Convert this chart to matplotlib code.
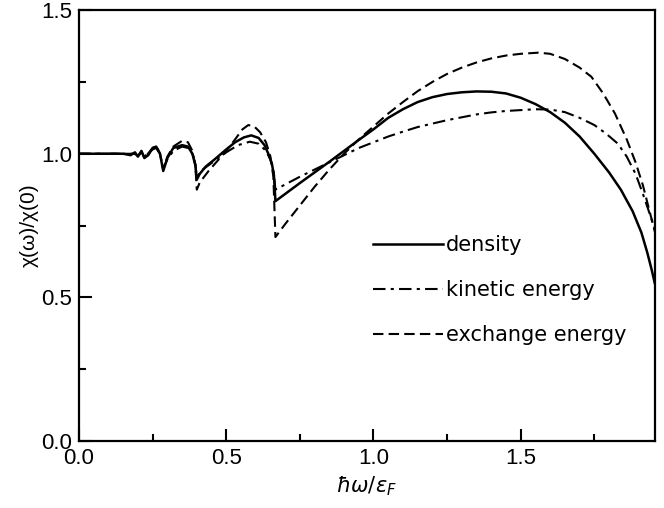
import numpy as np
import matplotlib.pyplot as plt
from matplotlib.ticker import MultipleLocator

plt.rcParams['font.family'] = ['Liberation Sans', 'DejaVu Sans']
plt.rcParams['mathtext.fontset'] = 'dejavusans'

# density response (solid)
x_density = [0.0, 0.15, 0.175, 0.19, 0.20, 0.212, 0.222, 0.235, 0.25, 0.262, 0.275,
             0.286, 0.30, 0.32, 0.35, 0.37, 0.385, 0.395, 0.40, 0.41, 0.43, 0.46,
             0.50, 0.53, 0.56, 0.585, 0.61, 0.63, 0.645, 0.655, 0.662, 0.667,
             0.70, 0.75, 0.80, 0.85, 0.90, 0.95, 1.00, 1.05, 1.10, 1.15, 1.20, 1.25,
             1.30, 1.35, 1.40, 1.45, 1.50, 1.55, 1.60, 1.65, 1.70, 1.75, 1.80,
             1.84, 1.88, 1.91, 1.93, 1.945, 1.955]
y_density = [1.0, 1.0, 0.995, 1.005, 0.99, 1.01, 0.985, 0.995, 1.02, 1.025, 1.0,
             0.94, 0.985, 1.02, 1.03, 1.025, 1.0, 0.96, 0.91, 0.93, 0.955, 0.98,
             1.015, 1.04, 1.057, 1.064, 1.055, 1.03, 0.995, 0.965, 0.925, 0.835,
             0.86, 0.898, 0.935, 0.972, 1.01, 1.048, 1.085, 1.125, 1.155, 1.18, 1.197, 1.208,
             1.214, 1.217, 1.216, 1.21, 1.195, 1.173, 1.145, 1.108, 1.06, 1.0, 0.935,
             0.875, 0.80, 0.725, 0.655, 0.595, 0.55]

# kinetic energy response (dash-dot)
x_kinetic = [0.0, 0.15, 0.19, 0.20, 0.212, 0.222, 0.25, 0.262, 0.275, 0.286, 0.30,
             0.32, 0.35, 0.37, 0.385, 0.395, 0.40, 0.42, 0.46, 0.50, 0.54, 0.58,
             0.61, 0.635, 0.65, 0.66, 0.667, 0.70, 0.75, 0.80, 0.85, 0.90, 0.95,
             1.00, 1.05, 1.10, 1.15, 1.20, 1.25, 1.30, 1.35, 1.40, 1.45, 1.50, 1.55,
             1.60, 1.65, 1.70, 1.75, 1.79, 1.83, 1.86, 1.89, 1.915, 1.935, 1.955]
y_kinetic = [1.0, 1.0, 1.0, 0.992, 1.005, 0.99, 1.015, 1.02, 1.0, 0.95, 0.98,
             1.01, 1.025, 1.02, 1.0, 0.965, 0.92, 0.945, 0.975, 1.005, 1.03, 1.042,
             1.035, 1.01, 0.98, 0.945, 0.875, 0.893, 0.92, 0.945, 0.97, 0.995, 1.02,
             1.04, 1.06, 1.077, 1.093, 1.105, 1.117, 1.127, 1.137, 1.144, 1.149, 1.152, 1.155,
             1.154, 1.145, 1.125, 1.10, 1.07, 1.035, 0.99, 0.93, 0.86, 0.80, 0.74]

# exchange energy response (dashed)
x_exchange = [0.0, 0.15, 0.19, 0.20, 0.212, 0.222, 0.25, 0.262, 0.275, 0.286, 0.30,
              0.32, 0.35, 0.37, 0.385, 0.395, 0.40, 0.41, 0.44, 0.47, 0.50, 0.53,
              0.555, 0.575, 0.595, 0.615, 0.635, 0.65, 0.66, 0.667, 0.70, 0.75,
              0.80, 0.85, 0.90, 0.95, 1.00, 1.05, 1.10, 1.15, 1.20, 1.25, 1.30,
              1.35, 1.40, 1.45, 1.50, 1.56, 1.60, 1.65, 1.70, 1.74, 1.78, 1.82,
              1.86, 1.89, 1.915, 1.935, 1.955]
y_exchange = [1.0, 1.0, 1.0, 0.99, 1.008, 0.985, 1.02, 1.028, 1.0, 0.945, 0.99,
              1.025, 1.045, 1.04, 1.01, 0.96, 0.875, 0.90, 0.94, 0.975, 1.01, 1.05,
              1.085, 1.10, 1.095, 1.075, 1.04, 0.99, 0.92, 0.71, 0.755, 0.82,
              0.885, 0.945, 1.0, 1.05, 1.095, 1.14, 1.18, 1.218, 1.25, 1.278, 1.30,
              1.318, 1.332, 1.342, 1.348, 1.352, 1.348, 1.33, 1.30, 1.268, 1.21, 1.14,
              1.05, 0.97, 0.89, 0.81, 0.73]

fig = plt.figure(figsize=(6.64, 5.08), dpi=100)
ax = fig.add_axes([0.119, 0.132, 0.867, 0.848])

ax.plot(x_density, y_density, color='black', lw=1.8, label='density')
ax.plot(x_kinetic, y_kinetic, color='black', lw=1.5, dashes=(6, 2.5, 1.5, 2.5),
        label='kinetic energy')
ax.plot(x_exchange, y_exchange, color='black', lw=1.5, dashes=(5, 2.5),
        label='exchange energy')

ax.set_xlim(0, 1.955)
ax.set_ylim(0, 1.5)
ax.xaxis.set_minor_locator(MultipleLocator(0.25))
ax.yaxis.set_minor_locator(MultipleLocator(0.25))
ax.set_xticks([0, 0.5, 1.0, 1.5])
ax.set_xticklabels(['0.0', '0.5', '1.0', '1.5'])
ax.set_yticks([0, 0.5, 1.0, 1.5])
ax.set_yticklabels(['0.0', '0.5', '1.0', '1.5'])
ax.tick_params(which='both', direction='in', width=1.5, labelsize=16)
ax.tick_params(which='major', length=9, pad=5)
ax.tick_params(which='minor', length=5)
for s in ax.spines.values():
    s.set_linewidth(1.6)

ax.set_xlabel(r'$\hbar\omega/\epsilon_F$', fontsize=15, labelpad=4)
ax.set_ylabel('χ(ω)/χ(0)', fontsize=15, labelpad=2)

ax.legend(loc='upper left', bbox_to_anchor=(0.51, 0.478), frameon=False,
          handlelength=3.4, handletextpad=0.1, labelspacing=1.2,
          borderpad=0, borderaxespad=0,
          prop={'family': ['DejaVu Sans'], 'size': 15})

fig.savefig('out.png', dpi=100)
